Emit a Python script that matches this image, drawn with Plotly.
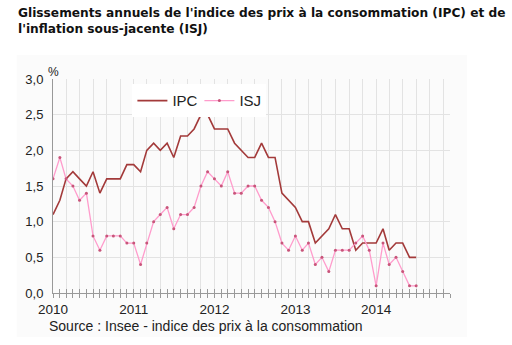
import plotly.graph_objects as go
import pandas as pd

months = pd.date_range("2010-01-01", "2014-07-01", freq="MS").strftime("%Y-%m-%d").tolist()
ipc = [1.1, 1.3, 1.6, 1.7, 1.6, 1.5, 1.7, 1.4, 1.6, 1.6, 1.6, 1.8,
       1.8, 1.7, 2.0, 2.1, 2.0, 2.1, 1.9, 2.2, 2.2, 2.3, 2.5, 2.5,
       2.3, 2.3, 2.3, 2.1, 2.0, 1.9, 1.9, 2.1, 1.9, 1.9, 1.4, 1.3,
       1.2, 1.0, 1.0, 0.7, 0.8, 0.9, 1.1, 0.9, 0.9, 0.6, 0.7, 0.7,
       0.7, 0.9, 0.6, 0.7, 0.7, 0.5, 0.5]
isj = [1.6, 1.9, 1.6, 1.5, 1.3, 1.4, 0.8, 0.6, 0.8, 0.8, 0.8, 0.7,
       0.7, 0.4, 0.7, 1.0, 1.1, 1.2, 0.9, 1.1, 1.1, 1.2, 1.5, 1.7,
       1.6, 1.5, 1.7, 1.4, 1.4, 1.5, 1.5, 1.3, 1.2, 1.0, 0.7, 0.6,
       0.8, 0.6, 0.7, 0.4, 0.5, 0.3, 0.6, 0.6, 0.6, 0.7, 0.8, 0.6,
       0.1, 0.7, 0.4, 0.5, 0.3, 0.1, 0.1]
x_start, x_end = "2010-01-01", "2014-12-01"
grid_vals = pd.date_range(x_start, x_end, freq="2MS").strftime("%Y-%m-%d").tolist() + [x_end]
year_labels = {"2010-01-01": "2010", "2011-01-01": "2011", "2012-01-01": "2012",
               "2013-01-01": "2013", "2014-01-01": "2014"}
grid_text = [year_labels.get(v, "") for v in grid_vals]

title_text = ("Glissements annuels de l'indice des prix à la consommation (IPC) et de<br>"
              "l'inflation sous-jacente (ISJ)")
source_text = "Source : Insee - indice des prix à la consommation"

fig = go.Figure()
fig.add_trace(go.Scatter(x=months, y=ipc, name="IPC", mode="lines",
                         line=dict(color="#a33a3a", width=1.6)))
fig.add_trace(go.Scatter(x=months, y=isj, name="ISJ", mode="lines+markers",
                         line=dict(color="#ff9ccc", width=1.3),
                         marker=dict(color="#c8557a", size=3)))
# helper trace for the overlaid tick axis
fig.add_trace(go.Scatter(x=[x_start], y=[None], xaxis="x2", showlegend=False,
                         hoverinfo="skip"))

fig.add_shape(type="rect", xref="paper", yref="paper",
              x0=-0.0915, x1=1.043, y0=-0.206, y1=1.112,
              fillcolor="#fbfbfb", line=dict(width=0), layer="below")

fig.update_layout(
    width=512, height=345,
    margin=dict(l=53, r=62, t=79, b=52),
    paper_bgcolor="white", plot_bgcolor="rgba(0,0,0,0)",
    separators=", ",
    font=dict(family="Liberation Sans, Arial, sans-serif", size=13, color="#222"),
    showlegend=True,
    legend=dict(orientation="h", x=0.2, y=0.975, xanchor="left", yanchor="top",
                bgcolor="white", font=dict(size=15, color="#222"),
                itemwidth=30, entrywidth=22, entrywidthmode="pixels"),
    xaxis=dict(type="date", range=[x_start, x_end], tickmode="array",
               tickvals=grid_vals, ticktext=grid_text,
               showgrid=True, gridcolor="#e3e3e3", gridwidth=1,
               showline=True, linecolor="#999", linewidth=1,
               ticks="outside", ticklen=4, tickcolor="#999",
               minor=dict(dtick="M1", tick0=x_start, ticks="outside", ticklen=4,
                          tickcolor="#999", showgrid=False),
               tickfont=dict(size=13.5, color="#222"), zeroline=False,
               fixedrange=True),
    xaxis2=dict(type="date", range=[x_start, x_end], overlaying="x", anchor="y",
                side="bottom", dtick="M1", tick0=x_start, ticks="inside",
                ticklen=4, tickcolor="#999", showticklabels=False,
                showgrid=False, showline=False, zeroline=False),
    yaxis=dict(range=[0, 3], dtick=0.5, tickformat=".1f",
               showgrid=True, gridcolor="#e3e3e3", gridwidth=1,
               showline=True, linecolor="#999", linewidth=1,
               ticks="", ticklabelstandoff=6, zeroline=False,
               tickfont=dict(size=13, color="#222")),
    annotations=[
        dict(text=title_text, xref="paper", yref="paper", x=-0.093, y=1.35,
             xanchor="left", yanchor="top", align="left", showarrow=False,
             font=dict(family="DejaVu Sans, Verdana, sans-serif", size=12.2,
                       color="#111", weight="bold")),
        dict(text="%", xref="paper", yref="paper", x=0.0, y=1.035,
             xanchor="center", yanchor="middle", showarrow=False,
             font=dict(size=12, color="#222")),
        dict(text=source_text, xref="paper", yref="paper", x=-0.016, y=-0.155,
             xanchor="left", yanchor="middle", showarrow=False,
             font=dict(size=14, color="#222")),
    ],
)

fig.write_html("out.html")
